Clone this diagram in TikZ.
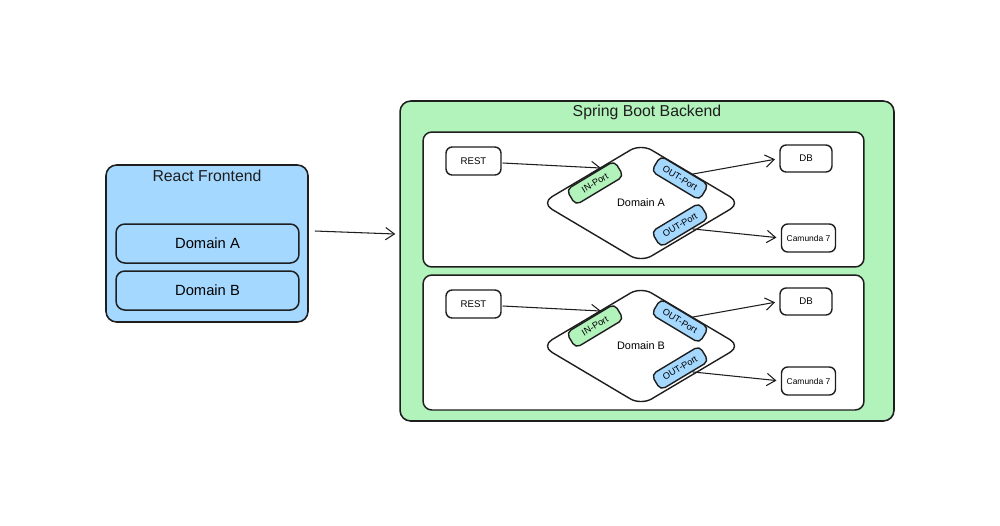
\documentclass[tikz,border=0pt]{standalone}
\usepackage{fontspec}
\setmainfont{Liberation Sans}
\usetikzlibrary{arrows.meta,shapes.geometric,calc}
\definecolor{stroke}{HTML}{1E1E1E}
\definecolor{bluefill}{HTML}{A5D8FF}
\definecolor{greenfill}{HTML}{B2F2BB}
\newcommand\fsz[1]{\fontsize{#1}{#1}\selectfont}
\tikzset{
  bigbox/.style={draw=stroke, line width=0.9pt, rounded corners=6pt, inner sep=0pt},
  midbox/.style={draw=stroke, line width=0.85pt, rounded corners=5pt, inner sep=0pt},
  smallbox/.style={draw=stroke, fill=white, line width=0.8pt, rounded corners=3.5pt, inner sep=0pt, font=\fsz{5.5}},
  portbox/.style={draw=stroke, line width=0.8pt, rounded corners=3pt, inner sep=0pt,
    minimum width=1.12cm, minimum height=0.36cm, font=\fsz{5.2}},
  dom/.style={draw=stroke, fill=white, line width=0.8pt, diamond, rounded corners=7pt,
    inner sep=0pt, minimum width=4.0cm, minimum height=2.38cm, font=\fsz{6.2}},
  title/.style={font=\fsz{9}, text=stroke},
  arr/.style={draw=stroke, line width=0.6pt, -{Straight Barb[length=5pt,width=7pt]}},
}
\begin{document}
\begin{tikzpicture}[x=0.02cm,y=-0.02cm]
\useasboundingbox[fill=white] (0,0) rectangle (1000,525);

% React frontend
\node[bigbox, fill=bluefill, minimum width=4.04cm, minimum height=3.14cm] (fe) at (207,243.5) {};
\node[title] (fetitle) at (207,176) {React Frontend};
\node[midbox, fill=bluefill, minimum width=3.66cm, minimum height=0.78cm, font=\fsz{8.4}] (fea) at (207.5,243.5) {Domain A};
\node[midbox, fill=bluefill, minimum width=3.66cm, minimum height=0.78cm, font=\fsz{8.4}] (feb) at (207.5,290.5) {Domain B};

% Spring boot backend
\node[bigbox, fill=greenfill, minimum width=9.88cm, minimum height=6.4cm] (be) at (647,261) {};
\node[title] (betitle) at (647,112) {Spring Boot Backend};

\draw[arr] ([shift={(6,-12.5)}]fe.east) -- ([shift={(-4,-27)}]be.west);

\foreach \s/\dy/\lab in {a/0/A, b/143/B}{
  \begin{scope}[shift={(0,\dy)}]
    \node[midbox, fill=white, minimum width=8.82cm, minimum height=2.7cm] (sec\s) at (643.5,199.5) {};
    \node[smallbox, minimum width=1.1cm, minimum height=0.56cm] (rest\s) at (473.5,161) {REST};
    \node[smallbox, minimum width=1.04cm, minimum height=0.54cm] (db\s) at (806,158.5) {DB};
    \node[smallbox, minimum width=1.08cm, minimum height=0.56cm, font=\fsz{4.8}] (cam\s) at (808.5,238) {Camunda 7};
    \node[dom] (dom\s) at (641,203) {Domain \lab};
    \node[portbox, fill=greenfill, rotate=31] (in\s) at (595,183) {IN-Port};
    \node[portbox, fill=bluefill, rotate=-31] (outa\s) at (680,178) {OUT-Port};
    \node[portbox, fill=bluefill, rotate=31] (outb\s) at (680,225) {OUT-Port};
    \draw[arr] ([shift={(1,2)}]rest\s.east) -- ($(in\s.north)!0.45!(in\s.north east)$);
    \draw[arr, shorten >=2.5pt] ($(outa\s.north)!0.3!(outa\s.north east)$) -- (db\s.west);
    \draw[arr, shorten >=2.5pt] ($(outb\s.south)!0.3!(outb\s.south east)$) -- (cam\s.west);
  \end{scope}
}
\end{tikzpicture}
\end{document}
